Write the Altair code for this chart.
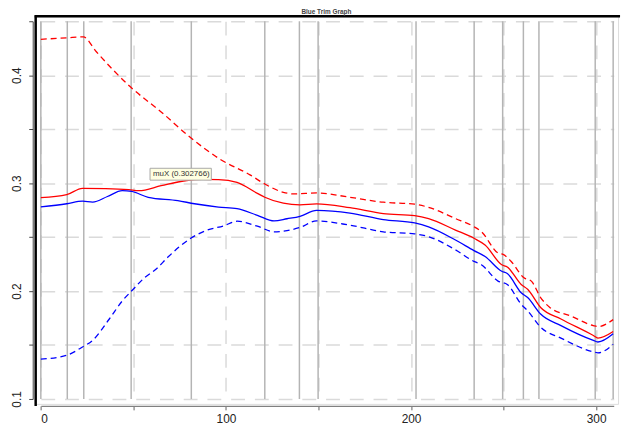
import altair as alt
import pandas as pd

# ---------------- data ----------------
title_text = "Blue Trim Graph"
x_ticks = [0, 50, 100, 150, 200, 250, 300]
y_ticks = [0.1, 0.15, 0.2, 0.25, 0.3, 0.35, 0.4, 0.45]
x_min, x_max = 0, 309.5
y_min, y_max = 0.1, 0.45

marker_x = [0, 14.3, 23.2, 48.8, 81.3, 121, 139.7, 149.8, 202.7, 234.1,
            249.5, 260.7, 269.1, 299.5, 309.2]

red_dash_x = [0, 14, 23, 30, 48.5, 65, 81, 97, 113, 121, 131, 137, 149, 167, 185,
              202, 209, 224, 234, 238, 247, 250, 254, 261, 265, 270, 275, 286,
              298.5, 301, 309.2]
red_dash_y = [0.4333, 0.4346, 0.4355, 0.4217, 0.389, 0.366, 0.342, 0.322, 0.3077,
              0.2992, 0.2915, 0.2900, 0.2909, 0.2869, 0.2823, 0.2805, 0.2778, 0.2672,
              0.2596, 0.2550, 0.2353, 0.2337, 0.2276, 0.2123, 0.2092, 0.1940, 0.1848,
              0.1771, 0.1680, 0.1671, 0.1735]

red_x = [0, 14, 22.5, 35, 47.5, 53, 65, 78, 87, 96, 106, 117, 121, 131, 140, 149,
         167, 185, 202, 209.5, 224, 234, 240, 249, 252, 259.5, 263, 270, 281, 298.5,
         301, 309.2]
red_y = [0.2866, 0.2894, 0.2952, 0.2950, 0.2940, 0.2930, 0.2976, 0.3022, 0.3035,
         0.3033, 0.3006, 0.2905, 0.2869, 0.2814, 0.2799, 0.2808, 0.2772, 0.2717,
         0.2698, 0.2671, 0.2565, 0.2489, 0.2427, 0.2244, 0.2223, 0.2061, 0.2016,
         0.1848, 0.1741, 0.1588, 0.1564, 0.1625]

blue_x = [0, 14, 22.5, 28, 36, 44, 49, 58, 74, 83, 96, 106, 117, 126, 133, 140, 149,
          167, 185, 202, 209.5, 224, 234, 240, 249, 252, 259.5, 263, 270, 281, 298.5,
          301, 309.2]
blue_y = [0.2780, 0.2809, 0.2833, 0.2824, 0.2876, 0.2930, 0.2923, 0.2869, 0.2838,
          0.2809, 0.2778, 0.2763, 0.2702, 0.2650, 0.2670, 0.2693, 0.2747, 0.2723,
          0.2662, 0.2631, 0.2595, 0.2473, 0.2375, 0.2320, 0.2183, 0.2162, 0.1985,
          0.1940, 0.1787, 0.1680, 0.1543, 0.1528, 0.1604]

blue_dash_x = [0, 14, 22.5, 28, 37, 44, 49, 56, 62, 69, 81, 90, 99, 106, 117, 126,
               133, 140, 149, 167, 185, 202, 209.5, 224, 234, 238, 247, 252, 259.5,
               263, 270, 281, 298.5, 301, 309.2]
blue_dash_y = [0.1369, 0.1405, 0.1482, 0.1543, 0.1741, 0.1908, 0.2000, 0.2123, 0.2199,
               0.2320, 0.2489, 0.2565, 0.2605, 0.2647, 0.2601, 0.2549, 0.2560, 0.2589,
               0.2650, 0.2610, 0.2549, 0.2530, 0.2504, 0.2382, 0.2275, 0.2244, 0.2092,
               0.2061, 0.1878, 0.1817, 0.1665, 0.1564, 0.1436, 0.1427, 0.1506]

hover_x = [59]
hover_value = [0.302766]
hover_label = ["muX (0.302766)"]

# ---------------- styles ----------------
FONT = "Liberation Sans"
series = [
    (red_dash_x, red_dash_y, "#ff0000", [6, 4]),
    (blue_dash_x, blue_dash_y, "#0000ff", [6, 4]),
    (red_x, red_y, "#ff0000", None),
    (blue_x, blue_y, "#0000ff", None),
]

xscale = alt.Scale(domain=[x_min, x_max], range=[6.2, 585.6], nice=False, zero=False)
yscale = alt.Scale(domain=[y_min, y_max], range=[387, 5], nice=False, zero=False)

xaxis = alt.Axis(values=x_ticks, title=None,
                 labelExpr="datum.value % 100 === 0 ? datum.label : ''",
                 grid=True, gridDash=[14, 10], gridColor="#dadada", gridWidth=1.5,
                 domainColor="#808080", domainWidth=1.5, tickColor="#606060",
                 tickSize=4, tickWidth=1, offset=2, labelFont=FONT, labelFontSize=12,
                 labelColor="#222222", labelPadding=4)
yaxis = alt.Axis(values=y_ticks, title=None,
                 labelExpr="round(datum.value*100) % 10 === 0 ? format(datum.value, '.1f') : ''",
                 labelAngle=-90, labelAlign="center", labelBaseline="bottom",
                 grid=True, gridDash=[14, 10], gridColor="#dadada", gridWidth=1.5,
                 domainColor="#444444", domainWidth=1, tickColor="#444444",
                 tickSize=4, tickWidth=1, offset=2, labelFont=FONT, labelFontSize=12,
                 labelColor="#222222", labelPadding=5)

X = lambda: alt.X("x:Q", scale=xscale, axis=xaxis)
Y = lambda: alt.Y("y:Q", scale=yscale, axis=yaxis)

layers = []

# vertical marker lines
mdf = pd.DataFrame({"x": marker_x})
layers.append(
    alt.Chart(mdf).mark_rule(color="#b4b4b4", strokeWidth=1.5).encode(
        x=X(), y=alt.datum(y_min), y2=alt.datum(y_max)
    )
)

for xs, ys, col, dash in series:
    df = pd.DataFrame({"x": xs, "y": ys})
    kw = dict(color=col, strokeWidth=1.3, interpolate="monotone")
    if dash:
        kw["strokeDash"] = dash
    layers.append(alt.Chart(df).mark_line(**kw).encode(x=X(), y=Y()))

# hover tooltip
hdf = pd.DataFrame({"x": hover_x, "y": hover_value, "label": hover_label})
layers.append(
    alt.Chart(hdf).mark_rect(fill="#ffffe1", stroke="#a8a8a8", strokeWidth=1,
                             x2Offset=62, y2Offset=-12).encode(
        x=X(), x2="x", y=Y(), y2="y"
    )
)
layers.append(
    alt.Chart(hdf).mark_text(align="left", baseline="middle", dx=3, dy=-6,
                             font=FONT, fontSize=8, color="#333333").encode(
        x=X(), y=Y(), text="label:N"
    )
)

# bevel frame (top/left dark edges)
layers.append(
    alt.Chart().mark_rule(color="black", strokeWidth=2.5).encode(
        x=alt.value(0), x2=alt.value(592), y=alt.value(0)
    )
)
layers.append(
    alt.Chart().mark_rule(color="black", strokeWidth=2.5).encode(
        x=alt.value(1), y=alt.value(-1), y2=alt.value(394)
    )
)

# chart title (as a text mark so it sits just above the frame)
layers.append(
    alt.Chart().mark_text(align="center", baseline="alphabetic", font=FONT,
                          fontSize=6.5, fontWeight="bold", color="#444444").encode(
        x=alt.value(295), y=alt.value(-2), text=alt.value(title_text)
    )
)

chart = alt.layer(*layers).properties(
    width=590, height=392,
    autosize="none",
    padding={"left": 27, "top": 6, "right": 6, "bottom": 26},
).configure_view(stroke="#dcdcdc", strokeWidth=2).configure(background="white")

chart.save("out.html", embed_options={"renderer": "svg", "actions": False})
